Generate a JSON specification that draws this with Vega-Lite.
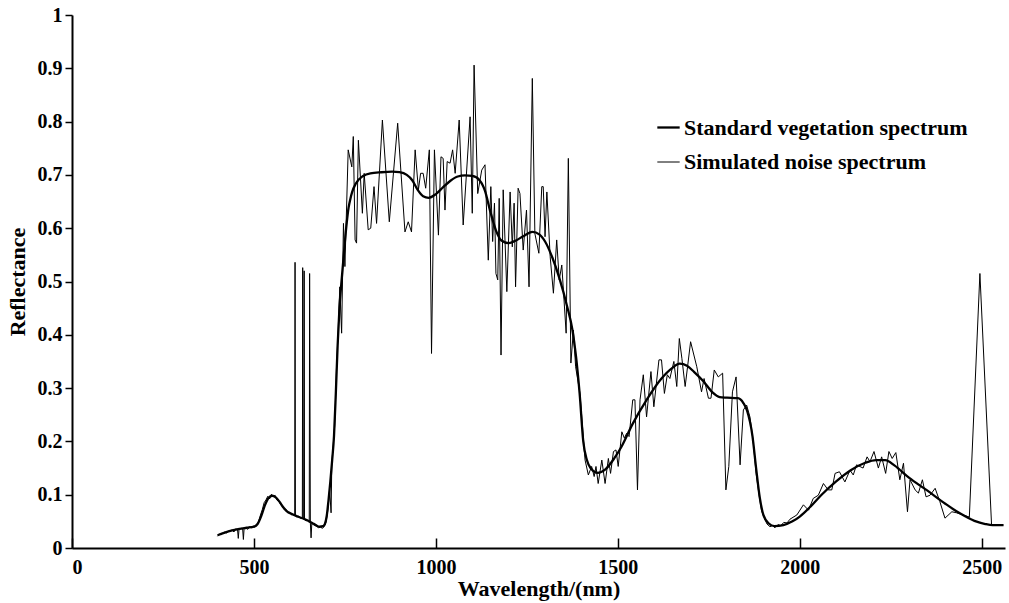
{
  "$schema": "https://vega.github.io/schema/vega-lite/v6.json",
  "width": 933,
  "height": 533,
  "autosize": {"type": "none"},
  "padding": {"left": 72, "top": 15, "right": 4, "bottom": 55},
  "background": "white",
  "config": {
    "view": {"stroke": null},
    "font": "Liberation Serif",
    "axis": {
      "grid": false,
      "domainColor": "black",
      "domainWidth": 2,
      "tickColor": "black",
      "tickWidth": 1.5,
      "labelFont": "Liberation Serif",
      "labelFontWeight": "bold",
      "labelFontSize": 20,
      "labelColor": "black",
      "titleFont": "Liberation Serif",
      "titleFontWeight": "bold",
      "titleFontSize": 22,
      "titleColor": "black"
    },
    "legend": {
      "labelFont": "Liberation Serif",
      "labelFontWeight": "bold",
      "labelFontSize": 22,
      "labelColor": "black",
      "labelLimit": 400
    }
  },
  "data": {
    "values": [
      {"series": "Simulated noise spectrum", "wavelength": 400, "reflectance": 0.022},
      {"series": "Simulated noise spectrum", "wavelength": 405, "reflectance": 0.026},
      {"series": "Simulated noise spectrum", "wavelength": 410, "reflectance": 0.025},
      {"series": "Simulated noise spectrum", "wavelength": 415, "reflectance": 0.028},
      {"series": "Simulated noise spectrum", "wavelength": 420, "reflectance": 0.030},
      {"series": "Simulated noise spectrum", "wavelength": 425, "reflectance": 0.028},
      {"series": "Simulated noise spectrum", "wavelength": 430, "reflectance": 0.032},
      {"series": "Simulated noise spectrum", "wavelength": 435, "reflectance": 0.031},
      {"series": "Simulated noise spectrum", "wavelength": 440, "reflectance": 0.034},
      {"series": "Simulated noise spectrum", "wavelength": 445, "reflectance": 0.030},
      {"series": "Simulated noise spectrum", "wavelength": 450, "reflectance": 0.036},
      {"series": "Simulated noise spectrum", "wavelength": 455, "reflectance": 0.034},
      {"series": "Simulated noise spectrum", "wavelength": 457, "reflectance": 0.018},
      {"series": "Simulated noise spectrum", "wavelength": 459, "reflectance": 0.035},
      {"series": "Simulated noise spectrum", "wavelength": 465, "reflectance": 0.037},
      {"series": "Simulated noise spectrum", "wavelength": 469, "reflectance": 0.036},
      {"series": "Simulated noise spectrum", "wavelength": 471, "reflectance": 0.016},
      {"series": "Simulated noise spectrum", "wavelength": 473, "reflectance": 0.037},
      {"series": "Simulated noise spectrum", "wavelength": 478, "reflectance": 0.038},
      {"series": "Simulated noise spectrum", "wavelength": 483, "reflectance": 0.035},
      {"series": "Simulated noise spectrum", "wavelength": 488, "reflectance": 0.040},
      {"series": "Simulated noise spectrum", "wavelength": 493, "reflectance": 0.038},
      {"series": "Simulated noise spectrum", "wavelength": 498, "reflectance": 0.041},
      {"series": "Simulated noise spectrum", "wavelength": 503, "reflectance": 0.039},
      {"series": "Simulated noise spectrum", "wavelength": 508, "reflectance": 0.044},
      {"series": "Simulated noise spectrum", "wavelength": 513, "reflectance": 0.050},
      {"series": "Simulated noise spectrum", "wavelength": 518, "reflectance": 0.062},
      {"series": "Simulated noise spectrum", "wavelength": 523, "reflectance": 0.072},
      {"series": "Simulated noise spectrum", "wavelength": 528, "reflectance": 0.085},
      {"series": "Simulated noise spectrum", "wavelength": 533, "reflectance": 0.090},
      {"series": "Simulated noise spectrum", "wavelength": 538, "reflectance": 0.097},
      {"series": "Simulated noise spectrum", "wavelength": 543, "reflectance": 0.092},
      {"series": "Simulated noise spectrum", "wavelength": 548, "reflectance": 0.101},
      {"series": "Simulated noise spectrum", "wavelength": 553, "reflectance": 0.096},
      {"series": "Simulated noise spectrum", "wavelength": 558, "reflectance": 0.099},
      {"series": "Simulated noise spectrum", "wavelength": 563, "reflectance": 0.090},
      {"series": "Simulated noise spectrum", "wavelength": 568, "reflectance": 0.088},
      {"series": "Simulated noise spectrum", "wavelength": 573, "reflectance": 0.082},
      {"series": "Simulated noise spectrum", "wavelength": 578, "reflectance": 0.079},
      {"series": "Simulated noise spectrum", "wavelength": 583, "reflectance": 0.072},
      {"series": "Simulated noise spectrum", "wavelength": 588, "reflectance": 0.073},
      {"series": "Simulated noise spectrum", "wavelength": 593, "reflectance": 0.066},
      {"series": "Simulated noise spectrum", "wavelength": 598, "reflectance": 0.067},
      {"series": "Simulated noise spectrum", "wavelength": 603, "reflectance": 0.062},
      {"series": "Simulated noise spectrum", "wavelength": 608, "reflectance": 0.063},
      {"series": "Simulated noise spectrum", "wavelength": 612, "reflectance": 0.060},
      {"series": "Simulated noise spectrum", "wavelength": 613, "reflectance": 0.536},
      {"series": "Simulated noise spectrum", "wavelength": 614, "reflectance": 0.061},
      {"series": "Simulated noise spectrum", "wavelength": 618, "reflectance": 0.058},
      {"series": "Simulated noise spectrum", "wavelength": 623, "reflectance": 0.060},
      {"series": "Simulated noise spectrum", "wavelength": 627, "reflectance": 0.056},
      {"series": "Simulated noise spectrum", "wavelength": 633, "reflectance": 0.057},
      {"series": "Simulated noise spectrum", "wavelength": 634, "reflectance": 0.526},
      {"series": "Simulated noise spectrum", "wavelength": 635, "reflectance": 0.055},
      {"series": "Simulated noise spectrum", "wavelength": 637, "reflectance": 0.054},
      {"series": "Simulated noise spectrum", "wavelength": 638, "reflectance": 0.520},
      {"series": "Simulated noise spectrum", "wavelength": 639, "reflectance": 0.053},
      {"series": "Simulated noise spectrum", "wavelength": 643, "reflectance": 0.051},
      {"series": "Simulated noise spectrum", "wavelength": 648, "reflectance": 0.052},
      {"series": "Simulated noise spectrum", "wavelength": 652, "reflectance": 0.048},
      {"series": "Simulated noise spectrum", "wavelength": 653, "reflectance": 0.515},
      {"series": "Simulated noise spectrum", "wavelength": 655, "reflectance": 0.047},
      {"series": "Simulated noise spectrum", "wavelength": 657, "reflectance": 0.019},
      {"series": "Simulated noise spectrum", "wavelength": 659, "reflectance": 0.046},
      {"series": "Simulated noise spectrum", "wavelength": 663, "reflectance": 0.044},
      {"series": "Simulated noise spectrum", "wavelength": 668, "reflectance": 0.042},
      {"series": "Simulated noise spectrum", "wavelength": 673, "reflectance": 0.040},
      {"series": "Simulated noise spectrum", "wavelength": 678, "reflectance": 0.038},
      {"series": "Simulated noise spectrum", "wavelength": 683, "reflectance": 0.039},
      {"series": "Simulated noise spectrum", "wavelength": 688, "reflectance": 0.037},
      {"series": "Simulated noise spectrum", "wavelength": 693, "reflectance": 0.040},
      {"series": "Simulated noise spectrum", "wavelength": 698, "reflectance": 0.048},
      {"series": "Simulated noise spectrum", "wavelength": 703, "reflectance": 0.070},
      {"series": "Simulated noise spectrum", "wavelength": 708, "reflectance": 0.110},
      {"series": "Simulated noise spectrum", "wavelength": 712, "reflectance": 0.066},
      {"series": "Simulated noise spectrum", "wavelength": 714, "reflectance": 0.160},
      {"series": "Simulated noise spectrum", "wavelength": 718, "reflectance": 0.195},
      {"series": "Simulated noise spectrum", "wavelength": 722, "reflectance": 0.230},
      {"series": "Simulated noise spectrum", "wavelength": 727, "reflectance": 0.340},
      {"series": "Simulated noise spectrum", "wavelength": 731, "reflectance": 0.400},
      {"series": "Simulated noise spectrum", "wavelength": 736, "reflectance": 0.490},
      {"series": "Simulated noise spectrum", "wavelength": 741, "reflectance": 0.403},
      {"series": "Simulated noise spectrum", "wavelength": 746, "reflectance": 0.609},
      {"series": "Simulated noise spectrum", "wavelength": 750, "reflectance": 0.528},
      {"series": "Simulated noise spectrum", "wavelength": 759, "reflectance": 0.747},
      {"series": "Simulated noise spectrum", "wavelength": 769, "reflectance": 0.715},
      {"series": "Simulated noise spectrum", "wavelength": 773, "reflectance": 0.772},
      {"series": "Simulated noise spectrum", "wavelength": 778, "reflectance": 0.578},
      {"series": "Simulated noise spectrum", "wavelength": 782, "reflectance": 0.572},
      {"series": "Simulated noise spectrum", "wavelength": 787, "reflectance": 0.765},
      {"series": "Simulated noise spectrum", "wavelength": 798, "reflectance": 0.628},
      {"series": "Simulated noise spectrum", "wavelength": 803, "reflectance": 0.703},
      {"series": "Simulated noise spectrum", "wavelength": 814, "reflectance": 0.597},
      {"series": "Simulated noise spectrum", "wavelength": 821, "reflectance": 0.600},
      {"series": "Simulated noise spectrum", "wavelength": 830, "reflectance": 0.678},
      {"series": "Simulated noise spectrum", "wavelength": 837, "reflectance": 0.609},
      {"series": "Simulated noise spectrum", "wavelength": 853, "reflectance": 0.803},
      {"series": "Simulated noise spectrum", "wavelength": 872, "reflectance": 0.612},
      {"series": "Simulated noise spectrum", "wavelength": 895, "reflectance": 0.797},
      {"series": "Simulated noise spectrum", "wavelength": 915, "reflectance": 0.593},
      {"series": "Simulated noise spectrum", "wavelength": 924, "reflectance": 0.612},
      {"series": "Simulated noise spectrum", "wavelength": 933, "reflectance": 0.593},
      {"series": "Simulated noise spectrum", "wavelength": 943, "reflectance": 0.747},
      {"series": "Simulated noise spectrum", "wavelength": 952, "reflectance": 0.672},
      {"series": "Simulated noise spectrum", "wavelength": 958, "reflectance": 0.703},
      {"series": "Simulated noise spectrum", "wavelength": 965, "reflectance": 0.703},
      {"series": "Simulated noise spectrum", "wavelength": 972, "reflectance": 0.675},
      {"series": "Simulated noise spectrum", "wavelength": 982, "reflectance": 0.747},
      {"series": "Simulated noise spectrum", "wavelength": 988, "reflectance": 0.365},
      {"series": "Simulated noise spectrum", "wavelength": 996, "reflectance": 0.747},
      {"series": "Simulated noise spectrum", "wavelength": 1007, "reflectance": 0.587},
      {"series": "Simulated noise spectrum", "wavelength": 1014, "reflectance": 0.734},
      {"series": "Simulated noise spectrum", "wavelength": 1020, "reflectance": 0.731},
      {"series": "Simulated noise spectrum", "wavelength": 1025, "reflectance": 0.634},
      {"series": "Simulated noise spectrum", "wavelength": 1031, "reflectance": 0.725},
      {"series": "Simulated noise spectrum", "wavelength": 1039, "reflectance": 0.722},
      {"series": "Simulated noise spectrum", "wavelength": 1046, "reflectance": 0.747},
      {"series": "Simulated noise spectrum", "wavelength": 1053, "reflectance": 0.703},
      {"series": "Simulated noise spectrum", "wavelength": 1064, "reflectance": 0.803},
      {"series": "Simulated noise spectrum", "wavelength": 1075, "reflectance": 0.606},
      {"series": "Simulated noise spectrum", "wavelength": 1094, "reflectance": 0.809},
      {"series": "Simulated noise spectrum", "wavelength": 1100, "reflectance": 0.628},
      {"series": "Simulated noise spectrum", "wavelength": 1105, "reflectance": 0.906},
      {"series": "Simulated noise spectrum", "wavelength": 1115, "reflectance": 0.665},
      {"series": "Simulated noise spectrum", "wavelength": 1126, "reflectance": 0.709},
      {"series": "Simulated noise spectrum", "wavelength": 1135, "reflectance": 0.719},
      {"series": "Simulated noise spectrum", "wavelength": 1144, "reflectance": 0.540},
      {"series": "Simulated noise spectrum", "wavelength": 1151, "reflectance": 0.678},
      {"series": "Simulated noise spectrum", "wavelength": 1156, "reflectance": 0.575},
      {"series": "Simulated noise spectrum", "wavelength": 1161, "reflectance": 0.647},
      {"series": "Simulated noise spectrum", "wavelength": 1165, "reflectance": 0.515},
      {"series": "Simulated noise spectrum", "wavelength": 1170, "reflectance": 0.503},
      {"series": "Simulated noise spectrum", "wavelength": 1174, "reflectance": 0.656},
      {"series": "Simulated noise spectrum", "wavelength": 1179, "reflectance": 0.362},
      {"series": "Simulated noise spectrum", "wavelength": 1185, "reflectance": 0.672},
      {"series": "Simulated noise spectrum", "wavelength": 1195, "reflectance": 0.481},
      {"series": "Simulated noise spectrum", "wavelength": 1204, "reflectance": 0.668},
      {"series": "Simulated noise spectrum", "wavelength": 1210, "reflectance": 0.565},
      {"series": "Simulated noise spectrum", "wavelength": 1215, "reflectance": 0.647},
      {"series": "Simulated noise spectrum", "wavelength": 1219, "reflectance": 0.490},
      {"series": "Simulated noise spectrum", "wavelength": 1226, "reflectance": 0.675},
      {"series": "Simulated noise spectrum", "wavelength": 1231, "reflectance": 0.665},
      {"series": "Simulated noise spectrum", "wavelength": 1240, "reflectance": 0.559},
      {"series": "Simulated noise spectrum", "wavelength": 1249, "reflectance": 0.634},
      {"series": "Simulated noise spectrum", "wavelength": 1256, "reflectance": 0.490},
      {"series": "Simulated noise spectrum", "wavelength": 1265, "reflectance": 0.881},
      {"series": "Simulated noise spectrum", "wavelength": 1272, "reflectance": 0.590},
      {"series": "Simulated noise spectrum", "wavelength": 1283, "reflectance": 0.553},
      {"series": "Simulated noise spectrum", "wavelength": 1291, "reflectance": 0.678},
      {"series": "Simulated noise spectrum", "wavelength": 1295, "reflectance": 0.678},
      {"series": "Simulated noise spectrum", "wavelength": 1300, "reflectance": 0.584},
      {"series": "Simulated noise spectrum", "wavelength": 1305, "reflectance": 0.668},
      {"series": "Simulated noise spectrum", "wavelength": 1314, "reflectance": 0.547},
      {"series": "Simulated noise spectrum", "wavelength": 1323, "reflectance": 0.478},
      {"series": "Simulated noise spectrum", "wavelength": 1332, "reflectance": 0.578},
      {"series": "Simulated noise spectrum", "wavelength": 1339, "reflectance": 0.503},
      {"series": "Simulated noise spectrum", "wavelength": 1346, "reflectance": 0.531},
      {"series": "Simulated noise spectrum", "wavelength": 1358, "reflectance": 0.403},
      {"series": "Simulated noise spectrum", "wavelength": 1364, "reflectance": 0.731},
      {"series": "Simulated noise spectrum", "wavelength": 1371, "reflectance": 0.347},
      {"series": "Simulated noise spectrum", "wavelength": 1378, "reflectance": 0.409},
      {"series": "Simulated noise spectrum", "wavelength": 1384, "reflectance": 0.340},
      {"series": "Simulated noise spectrum", "wavelength": 1396, "reflectance": 0.290},
      {"series": "Simulated noise spectrum", "wavelength": 1410, "reflectance": 0.165},
      {"series": "Simulated noise spectrum", "wavelength": 1419, "reflectance": 0.137},
      {"series": "Simulated noise spectrum", "wavelength": 1428, "reflectance": 0.153},
      {"series": "Simulated noise spectrum", "wavelength": 1435, "reflectance": 0.134},
      {"series": "Simulated noise spectrum", "wavelength": 1440, "reflectance": 0.153},
      {"series": "Simulated noise spectrum", "wavelength": 1446, "reflectance": 0.121},
      {"series": "Simulated noise spectrum", "wavelength": 1456, "reflectance": 0.165},
      {"series": "Simulated noise spectrum", "wavelength": 1465, "reflectance": 0.121},
      {"series": "Simulated noise spectrum", "wavelength": 1474, "reflectance": 0.168},
      {"series": "Simulated noise spectrum", "wavelength": 1480, "reflectance": 0.140},
      {"series": "Simulated noise spectrum", "wavelength": 1488, "reflectance": 0.181},
      {"series": "Simulated noise spectrum", "wavelength": 1495, "reflectance": 0.184},
      {"series": "Simulated noise spectrum", "wavelength": 1501, "reflectance": 0.153},
      {"series": "Simulated noise spectrum", "wavelength": 1511, "reflectance": 0.218},
      {"series": "Simulated noise spectrum", "wavelength": 1518, "reflectance": 0.206},
      {"series": "Simulated noise spectrum", "wavelength": 1524, "reflectance": 0.215},
      {"series": "Simulated noise spectrum", "wavelength": 1531, "reflectance": 0.209},
      {"series": "Simulated noise spectrum", "wavelength": 1541, "reflectance": 0.278},
      {"series": "Simulated noise spectrum", "wavelength": 1547, "reflectance": 0.278},
      {"series": "Simulated noise spectrum", "wavelength": 1554, "reflectance": 0.109},
      {"series": "Simulated noise spectrum", "wavelength": 1561, "reflectance": 0.278},
      {"series": "Simulated noise spectrum", "wavelength": 1570, "reflectance": 0.325},
      {"series": "Simulated noise spectrum", "wavelength": 1579, "reflectance": 0.246},
      {"series": "Simulated noise spectrum", "wavelength": 1591, "reflectance": 0.331},
      {"series": "Simulated noise spectrum", "wavelength": 1599, "reflectance": 0.265},
      {"series": "Simulated noise spectrum", "wavelength": 1613, "reflectance": 0.353},
      {"series": "Simulated noise spectrum", "wavelength": 1620, "reflectance": 0.353},
      {"series": "Simulated noise spectrum", "wavelength": 1628, "reflectance": 0.290},
      {"series": "Simulated noise spectrum", "wavelength": 1636, "reflectance": 0.325},
      {"series": "Simulated noise spectrum", "wavelength": 1643, "reflectance": 0.318},
      {"series": "Simulated noise spectrum", "wavelength": 1654, "reflectance": 0.350},
      {"series": "Simulated noise spectrum", "wavelength": 1662, "reflectance": 0.303},
      {"series": "Simulated noise spectrum", "wavelength": 1669, "reflectance": 0.393},
      {"series": "Simulated noise spectrum", "wavelength": 1676, "reflectance": 0.356},
      {"series": "Simulated noise spectrum", "wavelength": 1685, "reflectance": 0.303},
      {"series": "Simulated noise spectrum", "wavelength": 1700, "reflectance": 0.387},
      {"series": "Simulated noise spectrum", "wavelength": 1717, "reflectance": 0.340},
      {"series": "Simulated noise spectrum", "wavelength": 1730, "reflectance": 0.293},
      {"series": "Simulated noise spectrum", "wavelength": 1737, "reflectance": 0.318},
      {"series": "Simulated noise spectrum", "wavelength": 1749, "reflectance": 0.281},
      {"series": "Simulated noise spectrum", "wavelength": 1756, "reflectance": 0.281},
      {"series": "Simulated noise spectrum", "wavelength": 1765, "reflectance": 0.334},
      {"series": "Simulated noise spectrum", "wavelength": 1776, "reflectance": 0.321},
      {"series": "Simulated noise spectrum", "wavelength": 1788, "reflectance": 0.328},
      {"series": "Simulated noise spectrum", "wavelength": 1797, "reflectance": 0.109},
      {"series": "Simulated noise spectrum", "wavelength": 1805, "reflectance": 0.153},
      {"series": "Simulated noise spectrum", "wavelength": 1815, "reflectance": 0.293},
      {"series": "Simulated noise spectrum", "wavelength": 1825, "reflectance": 0.321},
      {"series": "Simulated noise spectrum", "wavelength": 1836, "reflectance": 0.156},
      {"series": "Simulated noise spectrum", "wavelength": 1845, "reflectance": 0.259},
      {"series": "Simulated noise spectrum", "wavelength": 1854, "reflectance": 0.268},
      {"series": "Simulated noise spectrum", "wavelength": 1863, "reflectance": 0.246},
      {"series": "Simulated noise spectrum", "wavelength": 1872, "reflectance": 0.200},
      {"series": "Simulated noise spectrum", "wavelength": 1880, "reflectance": 0.140},
      {"series": "Simulated noise spectrum", "wavelength": 1888, "reflectance": 0.100},
      {"series": "Simulated noise spectrum", "wavelength": 1895, "reflectance": 0.070},
      {"series": "Simulated noise spectrum", "wavelength": 1903, "reflectance": 0.055},
      {"series": "Simulated noise spectrum", "wavelength": 1910, "reflectance": 0.045},
      {"series": "Simulated noise spectrum", "wavelength": 1918, "reflectance": 0.040},
      {"series": "Simulated noise spectrum", "wavelength": 1925, "reflectance": 0.042},
      {"series": "Simulated noise spectrum", "wavelength": 1932, "reflectance": 0.038},
      {"series": "Simulated noise spectrum", "wavelength": 1940, "reflectance": 0.044},
      {"series": "Simulated noise spectrum", "wavelength": 1948, "reflectance": 0.042},
      {"series": "Simulated noise spectrum", "wavelength": 1956, "reflectance": 0.048},
      {"series": "Simulated noise spectrum", "wavelength": 1965, "reflectance": 0.047},
      {"series": "Simulated noise spectrum", "wavelength": 1973, "reflectance": 0.054},
      {"series": "Simulated noise spectrum", "wavelength": 1992, "reflectance": 0.062},
      {"series": "Simulated noise spectrum", "wavelength": 2010, "reflectance": 0.081},
      {"series": "Simulated noise spectrum", "wavelength": 2024, "reflectance": 0.071},
      {"series": "Simulated noise spectrum", "wavelength": 2037, "reflectance": 0.093},
      {"series": "Simulated noise spectrum", "wavelength": 2051, "reflectance": 0.099},
      {"series": "Simulated noise spectrum", "wavelength": 2065, "reflectance": 0.121},
      {"series": "Simulated noise spectrum", "wavelength": 2078, "reflectance": 0.109},
      {"series": "Simulated noise spectrum", "wavelength": 2088, "reflectance": 0.109},
      {"series": "Simulated noise spectrum", "wavelength": 2097, "reflectance": 0.140},
      {"series": "Simulated noise spectrum", "wavelength": 2109, "reflectance": 0.143},
      {"series": "Simulated noise spectrum", "wavelength": 2124, "reflectance": 0.124},
      {"series": "Simulated noise spectrum", "wavelength": 2138, "reflectance": 0.146},
      {"series": "Simulated noise spectrum", "wavelength": 2147, "reflectance": 0.137},
      {"series": "Simulated noise spectrum", "wavelength": 2156, "reflectance": 0.156},
      {"series": "Simulated noise spectrum", "wavelength": 2174, "reflectance": 0.150},
      {"series": "Simulated noise spectrum", "wavelength": 2185, "reflectance": 0.171},
      {"series": "Simulated noise spectrum", "wavelength": 2193, "reflectance": 0.162},
      {"series": "Simulated noise spectrum", "wavelength": 2204, "reflectance": 0.181},
      {"series": "Simulated noise spectrum", "wavelength": 2216, "reflectance": 0.150},
      {"series": "Simulated noise spectrum", "wavelength": 2225, "reflectance": 0.171},
      {"series": "Simulated noise spectrum", "wavelength": 2236, "reflectance": 0.140},
      {"series": "Simulated noise spectrum", "wavelength": 2245, "reflectance": 0.181},
      {"series": "Simulated noise spectrum", "wavelength": 2254, "reflectance": 0.168},
      {"series": "Simulated noise spectrum", "wavelength": 2264, "reflectance": 0.179},
      {"series": "Simulated noise spectrum", "wavelength": 2275, "reflectance": 0.128},
      {"series": "Simulated noise spectrum", "wavelength": 2285, "reflectance": 0.159},
      {"series": "Simulated noise spectrum", "wavelength": 2296, "reflectance": 0.068},
      {"series": "Simulated noise spectrum", "wavelength": 2303, "reflectance": 0.128},
      {"series": "Simulated noise spectrum", "wavelength": 2317, "reflectance": 0.109},
      {"series": "Simulated noise spectrum", "wavelength": 2326, "reflectance": 0.103},
      {"series": "Simulated noise spectrum", "wavelength": 2337, "reflectance": 0.128},
      {"series": "Simulated noise spectrum", "wavelength": 2347, "reflectance": 0.096},
      {"series": "Simulated noise spectrum", "wavelength": 2358, "reflectance": 0.099},
      {"series": "Simulated noise spectrum", "wavelength": 2372, "reflectance": 0.112},
      {"series": "Simulated noise spectrum", "wavelength": 2385, "reflectance": 0.087},
      {"series": "Simulated noise spectrum", "wavelength": 2399, "reflectance": 0.056},
      {"series": "Simulated noise spectrum", "wavelength": 2418, "reflectance": 0.068},
      {"series": "Simulated noise spectrum", "wavelength": 2431, "reflectance": 0.066},
      {"series": "Simulated noise spectrum", "wavelength": 2449, "reflectance": 0.062},
      {"series": "Simulated noise spectrum", "wavelength": 2466, "reflectance": 0.058},
      {"series": "Simulated noise spectrum", "wavelength": 2495, "reflectance": 0.515},
      {"series": "Simulated noise spectrum", "wavelength": 2527, "reflectance": 0.044},
      {"series": "Simulated noise spectrum", "wavelength": 2559, "reflectance": 0.043},

      {"series": "Standard vegetation spectrum", "wavelength": 400, "reflectance": 0.024},
      {"series": "Standard vegetation spectrum", "wavelength": 420, "reflectance": 0.029},
      {"series": "Standard vegetation spectrum", "wavelength": 440, "reflectance": 0.033},
      {"series": "Standard vegetation spectrum", "wavelength": 460, "reflectance": 0.036},
      {"series": "Standard vegetation spectrum", "wavelength": 480, "reflectance": 0.038},
      {"series": "Standard vegetation spectrum", "wavelength": 500, "reflectance": 0.040},
      {"series": "Standard vegetation spectrum", "wavelength": 510, "reflectance": 0.045},
      {"series": "Standard vegetation spectrum", "wavelength": 520, "reflectance": 0.060},
      {"series": "Standard vegetation spectrum", "wavelength": 530, "reflectance": 0.080},
      {"series": "Standard vegetation spectrum", "wavelength": 540, "reflectance": 0.094},
      {"series": "Standard vegetation spectrum", "wavelength": 550, "reflectance": 0.098},
      {"series": "Standard vegetation spectrum", "wavelength": 560, "reflectance": 0.095},
      {"series": "Standard vegetation spectrum", "wavelength": 570, "reflectance": 0.087},
      {"series": "Standard vegetation spectrum", "wavelength": 580, "reflectance": 0.077},
      {"series": "Standard vegetation spectrum", "wavelength": 590, "reflectance": 0.069},
      {"series": "Standard vegetation spectrum", "wavelength": 600, "reflectance": 0.065},
      {"series": "Standard vegetation spectrum", "wavelength": 620, "reflectance": 0.059},
      {"series": "Standard vegetation spectrum", "wavelength": 640, "reflectance": 0.054},
      {"series": "Standard vegetation spectrum", "wavelength": 660, "reflectance": 0.047},
      {"series": "Standard vegetation spectrum", "wavelength": 670, "reflectance": 0.043},
      {"series": "Standard vegetation spectrum", "wavelength": 680, "reflectance": 0.040},
      {"series": "Standard vegetation spectrum", "wavelength": 690, "reflectance": 0.041},
      {"series": "Standard vegetation spectrum", "wavelength": 695, "reflectance": 0.045},
      {"series": "Standard vegetation spectrum", "wavelength": 700, "reflectance": 0.060},
      {"series": "Standard vegetation spectrum", "wavelength": 705, "reflectance": 0.090},
      {"series": "Standard vegetation spectrum", "wavelength": 710, "reflectance": 0.125},
      {"series": "Standard vegetation spectrum", "wavelength": 715, "reflectance": 0.165},
      {"series": "Standard vegetation spectrum", "wavelength": 720, "reflectance": 0.210},
      {"series": "Standard vegetation spectrum", "wavelength": 725, "reflectance": 0.290},
      {"series": "Standard vegetation spectrum", "wavelength": 730, "reflectance": 0.380},
      {"series": "Standard vegetation spectrum", "wavelength": 735, "reflectance": 0.450},
      {"series": "Standard vegetation spectrum", "wavelength": 740, "reflectance": 0.495},
      {"series": "Standard vegetation spectrum", "wavelength": 745, "reflectance": 0.535},
      {"series": "Standard vegetation spectrum", "wavelength": 750, "reflectance": 0.575},
      {"series": "Standard vegetation spectrum", "wavelength": 755, "reflectance": 0.610},
      {"series": "Standard vegetation spectrum", "wavelength": 760, "reflectance": 0.638},
      {"series": "Standard vegetation spectrum", "wavelength": 765, "reflectance": 0.655},
      {"series": "Standard vegetation spectrum", "wavelength": 770, "reflectance": 0.668},
      {"series": "Standard vegetation spectrum", "wavelength": 780, "reflectance": 0.684},
      {"series": "Standard vegetation spectrum", "wavelength": 800, "reflectance": 0.698},
      {"series": "Standard vegetation spectrum", "wavelength": 820, "reflectance": 0.703},
      {"series": "Standard vegetation spectrum", "wavelength": 850, "reflectance": 0.705},
      {"series": "Standard vegetation spectrum", "wavelength": 880, "reflectance": 0.706},
      {"series": "Standard vegetation spectrum", "wavelength": 900, "reflectance": 0.705},
      {"series": "Standard vegetation spectrum", "wavelength": 920, "reflectance": 0.700},
      {"series": "Standard vegetation spectrum", "wavelength": 935, "reflectance": 0.690},
      {"series": "Standard vegetation spectrum", "wavelength": 950, "reflectance": 0.672},
      {"series": "Standard vegetation spectrum", "wavelength": 965, "reflectance": 0.660},
      {"series": "Standard vegetation spectrum", "wavelength": 980, "reflectance": 0.657},
      {"series": "Standard vegetation spectrum", "wavelength": 1000, "reflectance": 0.664},
      {"series": "Standard vegetation spectrum", "wavelength": 1020, "reflectance": 0.677},
      {"series": "Standard vegetation spectrum", "wavelength": 1040, "reflectance": 0.689},
      {"series": "Standard vegetation spectrum", "wavelength": 1060, "reflectance": 0.697},
      {"series": "Standard vegetation spectrum", "wavelength": 1080, "reflectance": 0.699},
      {"series": "Standard vegetation spectrum", "wavelength": 1100, "reflectance": 0.698},
      {"series": "Standard vegetation spectrum", "wavelength": 1120, "reflectance": 0.690},
      {"series": "Standard vegetation spectrum", "wavelength": 1135, "reflectance": 0.670},
      {"series": "Standard vegetation spectrum", "wavelength": 1150, "reflectance": 0.630},
      {"series": "Standard vegetation spectrum", "wavelength": 1165, "reflectance": 0.596},
      {"series": "Standard vegetation spectrum", "wavelength": 1180, "reflectance": 0.577},
      {"series": "Standard vegetation spectrum", "wavelength": 1200, "reflectance": 0.572},
      {"series": "Standard vegetation spectrum", "wavelength": 1220, "reflectance": 0.577},
      {"series": "Standard vegetation spectrum", "wavelength": 1240, "reflectance": 0.585},
      {"series": "Standard vegetation spectrum", "wavelength": 1265, "reflectance": 0.593},
      {"series": "Standard vegetation spectrum", "wavelength": 1285, "reflectance": 0.588},
      {"series": "Standard vegetation spectrum", "wavelength": 1300, "reflectance": 0.575},
      {"series": "Standard vegetation spectrum", "wavelength": 1320, "reflectance": 0.545},
      {"series": "Standard vegetation spectrum", "wavelength": 1340, "reflectance": 0.505},
      {"series": "Standard vegetation spectrum", "wavelength": 1360, "reflectance": 0.455},
      {"series": "Standard vegetation spectrum", "wavelength": 1375, "reflectance": 0.410},
      {"series": "Standard vegetation spectrum", "wavelength": 1385, "reflectance": 0.360},
      {"series": "Standard vegetation spectrum", "wavelength": 1395, "reflectance": 0.290},
      {"series": "Standard vegetation spectrum", "wavelength": 1405, "reflectance": 0.200},
      {"series": "Standard vegetation spectrum", "wavelength": 1415, "reflectance": 0.165},
      {"series": "Standard vegetation spectrum", "wavelength": 1425, "reflectance": 0.150},
      {"series": "Standard vegetation spectrum", "wavelength": 1445, "reflectance": 0.141},
      {"series": "Standard vegetation spectrum", "wavelength": 1465, "reflectance": 0.147},
      {"series": "Standard vegetation spectrum", "wavelength": 1490, "reflectance": 0.168},
      {"series": "Standard vegetation spectrum", "wavelength": 1510, "reflectance": 0.190},
      {"series": "Standard vegetation spectrum", "wavelength": 1540, "reflectance": 0.232},
      {"series": "Standard vegetation spectrum", "wavelength": 1580, "reflectance": 0.279},
      {"series": "Standard vegetation spectrum", "wavelength": 1620, "reflectance": 0.318},
      {"series": "Standard vegetation spectrum", "wavelength": 1650, "reflectance": 0.338},
      {"series": "Standard vegetation spectrum", "wavelength": 1670, "reflectance": 0.346},
      {"series": "Standard vegetation spectrum", "wavelength": 1690, "reflectance": 0.342},
      {"series": "Standard vegetation spectrum", "wavelength": 1710, "reflectance": 0.330},
      {"series": "Standard vegetation spectrum", "wavelength": 1735, "reflectance": 0.313},
      {"series": "Standard vegetation spectrum", "wavelength": 1760, "reflectance": 0.292},
      {"series": "Standard vegetation spectrum", "wavelength": 1780, "reflectance": 0.283},
      {"series": "Standard vegetation spectrum", "wavelength": 1800, "reflectance": 0.282},
      {"series": "Standard vegetation spectrum", "wavelength": 1830, "reflectance": 0.281},
      {"series": "Standard vegetation spectrum", "wavelength": 1845, "reflectance": 0.272},
      {"series": "Standard vegetation spectrum", "wavelength": 1855, "reflectance": 0.258},
      {"series": "Standard vegetation spectrum", "wavelength": 1870, "reflectance": 0.210},
      {"series": "Standard vegetation spectrum", "wavelength": 1880, "reflectance": 0.150},
      {"series": "Standard vegetation spectrum", "wavelength": 1890, "reflectance": 0.095},
      {"series": "Standard vegetation spectrum", "wavelength": 1900, "reflectance": 0.062},
      {"series": "Standard vegetation spectrum", "wavelength": 1915, "reflectance": 0.046},
      {"series": "Standard vegetation spectrum", "wavelength": 1930, "reflectance": 0.041},
      {"series": "Standard vegetation spectrum", "wavelength": 1955, "reflectance": 0.043},
      {"series": "Standard vegetation spectrum", "wavelength": 1980, "reflectance": 0.050},
      {"series": "Standard vegetation spectrum", "wavelength": 2000, "reflectance": 0.059},
      {"series": "Standard vegetation spectrum", "wavelength": 2030, "reflectance": 0.078},
      {"series": "Standard vegetation spectrum", "wavelength": 2060, "reflectance": 0.100},
      {"series": "Standard vegetation spectrum", "wavelength": 2100, "reflectance": 0.125},
      {"series": "Standard vegetation spectrum", "wavelength": 2140, "reflectance": 0.146},
      {"series": "Standard vegetation spectrum", "wavelength": 2180, "reflectance": 0.160},
      {"series": "Standard vegetation spectrum", "wavelength": 2210, "reflectance": 0.165},
      {"series": "Standard vegetation spectrum", "wavelength": 2235, "reflectance": 0.165},
      {"series": "Standard vegetation spectrum", "wavelength": 2260, "reflectance": 0.155},
      {"series": "Standard vegetation spectrum", "wavelength": 2300, "reflectance": 0.132},
      {"series": "Standard vegetation spectrum", "wavelength": 2350, "reflectance": 0.108},
      {"series": "Standard vegetation spectrum", "wavelength": 2400, "reflectance": 0.083},
      {"series": "Standard vegetation spectrum", "wavelength": 2440, "reflectance": 0.065},
      {"series": "Standard vegetation spectrum", "wavelength": 2480, "reflectance": 0.051},
      {"series": "Standard vegetation spectrum", "wavelength": 2510, "reflectance": 0.045},
      {"series": "Standard vegetation spectrum", "wavelength": 2530, "reflectance": 0.043},
      {"series": "Standard vegetation spectrum", "wavelength": 2560, "reflectance": 0.043}
    ]
  },
  "encoding": {
    "x": {
      "field": "wavelength",
      "type": "quantitative",
      "scale": {"domain": [0, 2564], "nice": false, "zero": false},
      "axis": {
        "title": "Wavelength/(nm)",
        "values": [0, 500, 1000, 1500, 2000, 2500],
        "format": "d",
        "tickSize": -10,
        "labelPadding": 19,
        "titleY": 47,
        "titleBaseline": "alphabetic"
      }
    },
    "y": {
      "field": "reflectance",
      "type": "quantitative",
      "scale": {"domain": [0, 1], "nice": false},
      "axis": {
        "title": "Reflectance",
        "values": [0, 0.1, 0.2, 0.3, 0.4, 0.5, 0.6, 0.7, 0.8, 0.9, 1],
        "format": "~g",
        "tickSize": 7,
        "labelPadding": 3,
        "titleX": -55,
        "titleBaseline": "middle"
      }
    },
    "color": {
      "field": "series",
      "type": "nominal",
      "scale": {
        "domain": ["Standard vegetation spectrum", "Simulated noise spectrum"],
        "range": ["#000000", "#000000"]
      },
      "legend": {
        "title": null,
        "orient": "none",
        "legendX": 584,
        "legendY": 100,
        "symbolType": "stroke",
        "symbolSize": 500,
        "rowPadding": 11,
        "labelOffset": 3,
        "padding": 0
      }
    },
    "strokeWidth": {
      "field": "series",
      "type": "nominal",
      "scale": {
        "domain": ["Standard vegetation spectrum", "Simulated noise spectrum"],
        "range": [2.3, 1]
      },
      "legend": {
        "title": null,
        "orient": "none",
        "legendX": 584,
        "legendY": 100,
        "symbolType": "stroke",
        "symbolSize": 500,
        "rowPadding": 11,
        "labelOffset": 3,
        "padding": 0
      }
    }
  },
  "layer": [
    {
      "transform": [{"filter": "datum.series === 'Simulated noise spectrum'"}],
      "mark": {"type": "line", "strokeJoin": "miter"}
    },
    {
      "transform": [{"filter": "datum.series === 'Standard vegetation spectrum'"}],
      "mark": {"type": "line", "interpolate": "monotone"}
    }
  ]
}
